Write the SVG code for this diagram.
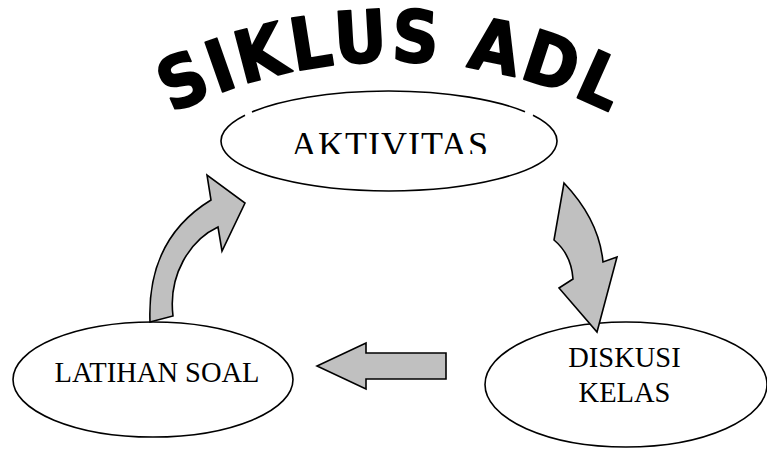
<svg xmlns="http://www.w3.org/2000/svg" width="767" height="449" viewBox="0 0 767 449">
  <style>
    .node { fill: #ffffff; stroke: #000000; stroke-width: 1.6; }
    .outline { fill: none; stroke: #000000; stroke-width: 1.6; }
    .label { font-family: "Liberation Serif", "Times New Roman", serif; font-size: 28.5px; fill: #000000; text-anchor: middle; }
    .big { font-size: 36px; letter-spacing: 1px; }
    .arrow { fill: #c0c0c0; stroke: #000000; stroke-width: 1.6; stroke-linejoin: miter; }
    .title { font-family: "DejaVu Sans Condensed", "DejaVu Sans", "Liberation Sans", sans-serif; font-stretch: condensed; font-weight: bold; font-size: 72px; letter-spacing: 3px; fill: #000000; stroke: #000000; stroke-width: 1.8; stroke-linejoin: round; }
  </style>
  <defs>
    <path id="titleArc" d="M -32,306 A 490 490 0 0 1 816 306"/>
    <clipPath id="aktClip"><rect x="250" y="100" width="280" height="54"/></clipPath>
  </defs>
  <rect width="767" height="449" fill="#ffffff"/>

  <g id="title">
    <text class="title"><textPath href="#titleArc" startOffset="50%" text-anchor="middle">SIKLUS ADL</textPath></text>
  </g>

  <g id="node-aktivitas">
    <ellipse cx="389" cy="141" rx="168" ry="50" fill="#ffffff" stroke="none"/>
    <path class="outline" d="M252,112 A168,50 0 0 1 525,111.7 M533,115.2 A168,50 0 1 1 245,115.2"/>
    <text class="label big" x="390" y="157" clip-path="url(#aktClip)">AKTIVITAS</text>
  </g>

  <g id="node-latihan">
    <ellipse class="node" cx="153" cy="379.5" rx="140" ry="57.5"/>
    <text class="label" x="157" y="382">LATIHAN SOAL</text>
  </g>

  <g id="node-diskusi">
    <ellipse class="node" cx="626" cy="384.5" rx="141" ry="62.5"/>
    <text class="label" x="624.5" y="367">DISKUSI</text>
    <text class="label" x="624.5" y="402">KELAS</text>
  </g>

  <g id="connectors">
    <path class="arrow" d="M564,183 C583,203 600,230 603,262 L617,257 L597,332 L559,288 L573,279 C572,265 566,250 554,240 Z"/>
    <path class="arrow" d="M446,353 L366,353 L366,343 L317,366 L366,389 L366,379 L446,379 Z"/>
    <path class="arrow" d="M150,322 C148,270 165,228 211,200 L207,175 L245,203 L222,251 L218,227 C190,240 168,275 173,316 Z"/>
  </g>
</svg>
